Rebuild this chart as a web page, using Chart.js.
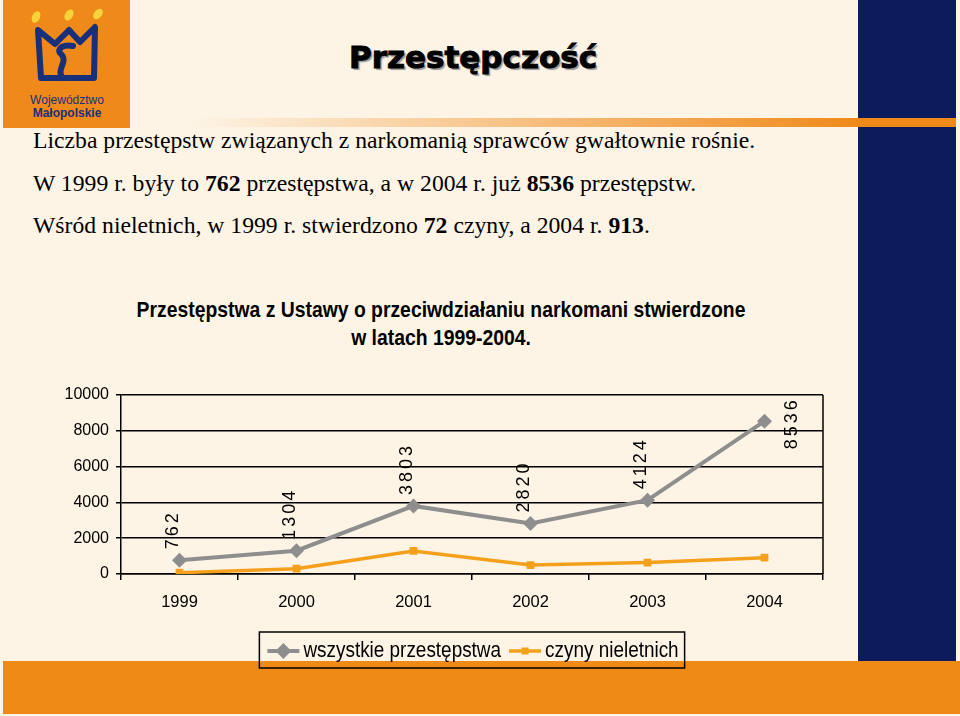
<!DOCTYPE html>
<html>
<head>
<meta charset="utf-8">
<script src="https://cdn.jsdelivr.net/npm/chart.js@4.4.1/dist/chart.umd.min.js"></script>
<style>
  html, body { margin: 0; padding: 0; }
  body { width: 960px; height: 716px; background: #fdf4e6; position: relative; overflow: hidden; }
  .logo { position: absolute; left: 3px; top: 0; width: 127px; height: 128px; background: #ef8a1a; }
  .navy { position: absolute; left: 858px; top: 0; width: 98px; height: 661px; background: #0b1b5b; }
  .stripe { position: absolute; left: 190px; top: 118px; width: 766px; height: 9px;
            background: linear-gradient(to right, rgba(240,138,26,0) 0%, rgba(240,138,26,0.45) 40%, #ef8a1a 87%, #ef8a1a 100%); }
  .band { position: absolute; left: 3px; top: 661px; width: 957px; height: 53px; background: #f08a17; }
  .title { position: absolute; left: 0; width: 946px; top: 39px; text-align: center;
           font: bold 31px "DejaVu Sans", sans-serif; color: #000; -webkit-text-stroke: 1px #000;
           text-shadow: 2px 2px 1px #9a9a9a; }
  .line { position: absolute; left: 33px; font: 23.7px "Liberation Serif", "Times New Roman", serif; color: #000; white-space: nowrap; }
  .ctitle { position: absolute; left: 41px; width: 800px; text-align: center; transform: scaleX(0.88);
            font: bold 22px "Liberation Sans", Arial, sans-serif; color: #000; line-height: 28px; top: 296px; }
  #wrap { position: absolute; left: 22px; top: 290px; width: 838px; height: 400px; }
</style>
</head>
<body>
<div class="band"></div>
<div class="navy"></div>
<div class="stripe"></div>
<div class="logo">
  <svg width="127" height="128" viewBox="0 0 127 128">
    <ellipse cx="33" cy="17" rx="4" ry="6" fill="#f7d23a" transform="rotate(25 33 17)"/>
    <ellipse cx="66" cy="15" rx="4" ry="6" fill="#f7d23a" transform="rotate(30 66 15)"/>
    <ellipse cx="95" cy="14" rx="4" ry="6" fill="#f7d23a" transform="rotate(40 95 14)"/>
    <path d="M38 78 L35 30 L52 44 L66 30 L77 42 L92 27 L91 78 Z M60 78 C52 70 66 62 58 54 C52 48 62 44 70 46"
          fill="none" stroke="#18307a" stroke-width="6" stroke-linejoin="round" stroke-linecap="round"/>
    <text x="64" y="104" text-anchor="middle" font-family="Liberation Sans, Arial, sans-serif" font-size="12" fill="#18307a">Województwo</text>
    <text x="64" y="117" text-anchor="middle" font-family="Liberation Sans, Arial, sans-serif" font-size="12" font-weight="bold" fill="#18307a">Małopolskie</text>
  </svg>
</div>
<div class="title">Przestępczość</div>
<div class="line" style="top:127px">Liczba przestępstw związanych z narkomanią sprawców gwałtownie rośnie.</div>
<div class="line" style="top:170px">W 1999 r. były to <b>762</b> przestępstwa, a w 2004 r. już <b>8536</b> przestępstw.</div>
<div class="line" style="top:212px">Wśród nieletnich, w 1999 r. stwierdzono <b>72</b> czyny, a 2004 r. <b>913</b>.</div>
<div class="ctitle">Przestępstwa z Ustawy o przeciwdziałaniu narkomani stwierdzone<br>w latach 1999-2004.</div>
<div id="wrap"><canvas id="myChart" width="838" height="400"></canvas></div>
<script>
const years = ['1999', '2000', '2001', '2002', '2003', '2004'];
const allCrimes = [762, 1304, 3803, 2820, 4124, 8536];
const juvenile = [72, 300, 1290, 500, 640, 913];
const yTicks = [0, 2000, 4000, 6000, 8000, 10000];
const seriesNames = ['wszystkie przestępstwa', 'czyny nieletnich'];

const sans = "'Liberation Sans', Arial, sans-serif";
const gray = '#8e8e8e';
const orange = '#f5a01c';

// labels rotated 90deg above the grey points
const valueLabels = {
  id: 'valueLabels',
  afterDatasetsDraw(chart) {
    const ctx = chart.ctx;
    const area = chart.chartArea;
    const meta = chart.getDatasetMeta(0);
    ctx.save();
    ctx.font = '18px ' + sans;
    ctx.letterSpacing = '3px';
    ctx.fillStyle = '#000';
    ctx.textBaseline = 'middle';
    meta.data.forEach((pt, i) => {
      const txt = String(allCrimes[i]);
      const w = ctx.measureText(txt).width;
      ctx.save();
      if (pt.y - 10 - w < area.top - 4) {
        ctx.translate(pt.x + 28, pt.y + 2);
        ctx.textAlign = 'center';
      } else {
        ctx.translate(pt.x - 6, pt.y - 11);
        ctx.textAlign = 'left';
      }
      ctx.rotate(-Math.PI / 2);
      ctx.fillText(txt, 0, 0);
      ctx.restore();
    });
    ctx.restore();
  }
};

// plot frame on the right side + boxed legend under the axis
const frameAndLegend = {
  id: 'frameAndLegend',
  afterDraw(chart) {
    const ctx = chart.ctx;
    const a = chart.chartArea;
    ctx.save();
    ctx.strokeStyle = '#000';
    ctx.lineWidth = 1.5;
    ctx.beginPath();
    ctx.moveTo(a.right, a.top);
    ctx.lineTo(a.right, a.bottom);
    ctx.stroke();

    const sx = 0.86;
    ctx.font = '22px ' + sans;
    const w1 = ctx.measureText(seriesNames[0]).width * sx;
    const w2 = ctx.measureText(seriesNames[1]).width * sx;
    const total = 8 + 32 + 4 + w1 + 8 + 32 + 4 + w2 + 6;
    const bx = (a.left + a.right) / 2 - total / 2;
    const by = a.bottom + 58;
    const bh = 36;
    ctx.lineWidth = 1.5;
    ctx.strokeRect(bx, by, total, bh);
    const cy = by + bh / 2 + 1;

    const drawText = (t, x) => {
      ctx.save();
      ctx.translate(x, cy);
      ctx.scale(sx, 1);
      ctx.fillStyle = '#000';
      ctx.textBaseline = 'middle';
      ctx.fillText(t, 0, 0);
      ctx.restore();
    };

    let x = bx + 8;
    ctx.strokeStyle = gray;
    ctx.lineWidth = 4;
    ctx.beginPath(); ctx.moveTo(x, cy); ctx.lineTo(x + 32, cy); ctx.stroke();
    ctx.fillStyle = gray;
    ctx.beginPath();
    ctx.moveTo(x + 16, cy - 8); ctx.lineTo(x + 24, cy); ctx.lineTo(x + 16, cy + 8); ctx.lineTo(x + 8, cy);
    ctx.closePath(); ctx.fill();
    x += 36;
    drawText(seriesNames[0], x);
    x += w1 + 8;
    ctx.strokeStyle = orange;
    ctx.lineWidth = 3.5;
    ctx.beginPath(); ctx.moveTo(x, cy); ctx.lineTo(x + 32, cy); ctx.stroke();
    ctx.fillStyle = orange;
    ctx.fillRect(x + 12.5, cy - 3.5, 7, 7);
    x += 36;
    drawText(seriesNames[1], x);
    ctx.restore();
  }
};

const config = {
  type: 'line',
  data: {
    labels: years,
    datasets: [
      {
        label: seriesNames[0],
        data: allCrimes,
        borderColor: gray,
        backgroundColor: gray,
        borderWidth: 4,
        pointStyle: 'rectRot',
        pointRadius: 7.5,
        pointBorderWidth: 0,
        tension: 0
      },
      {
        label: seriesNames[1],
        data: juvenile,
        borderColor: orange,
        backgroundColor: orange,
        borderWidth: 3.5,
        pointStyle: 'rect',
        pointRadius: 5.5,
        pointBorderWidth: 0,
        tension: 0
      }
    ]
  },
  options: {
    responsive: false,
    animation: false,
    devicePixelRatio: 1,
    layout: { padding: { left: 0, right: 37, top: 105, bottom: 76 } },
    plugins: {
      legend: { display: false },
      tooltip: { enabled: false },
      title: { display: false }
    },
    scales: {
      x: {
        offset: true,
        grid: { offset: true, drawOnChartArea: false, color: '#000', lineWidth: 1.5, tickLength: 6 },
        border: { color: '#000', width: 1.5 },
        ticks: { color: '#000', font: { family: sans, size: 16.5 }, padding: 13, maxRotation: 0 },
        afterFit(scale) { scale.height = 40; }
      },
      y: {
        min: 0,
        max: 10000,
        afterBuildTicks(scale) { scale.ticks = yTicks.map(v => ({ value: v })); },
        grid: { color: '#000', lineWidth: 1.5, tickLength: 5 },
        border: { color: '#000', width: 1.5 },
        ticks: { color: '#000', font: { family: sans, size: 16 }, padding: 7, callback: v => String(v) },
        afterFit(scale) { scale.width = 99; }
      }
    }
  },
  plugins: [valueLabels, frameAndLegend]
};

var myChart = new Chart(document.getElementById('myChart'), config);
</script>
</body>
</html>
